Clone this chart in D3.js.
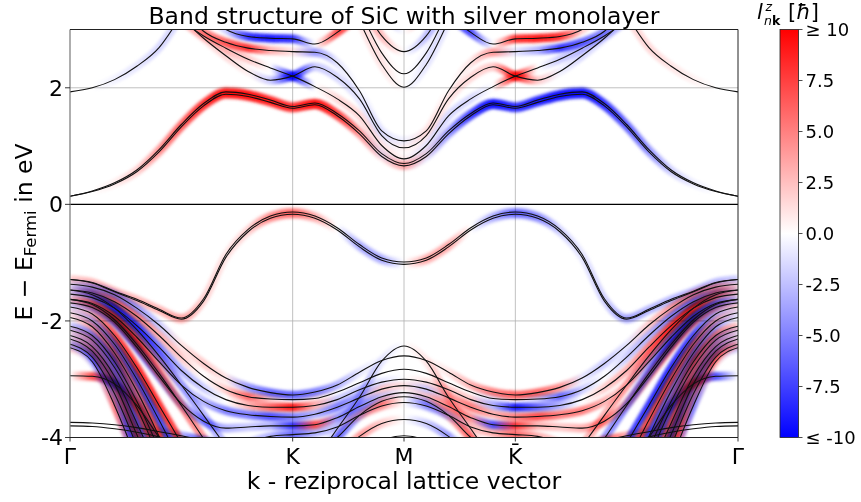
<!DOCTYPE html>
<html><head><meta charset="utf-8">
<script src="https://cdn.jsdelivr.net/npm/d3@7"></script>
<style>body{margin:0;background:#fff}text{font-family:"DejaVu Sans",sans-serif}</style>
</head><body><svg id="chart" width="861" height="502"></svg>
<script>
const _ = null;
// k-path sample positions (Γ=0, K=1, M=1.5, K̄=2, Γ=3)
const kPoints = [0,0.1,0.2,0.3,0.4,0.5,0.6,0.7,0.8,0.9,1,1.1,1.2,1.3,1.4,1.5,1.6,1.7,1.8,1.9,2,2.1,2.2,2.3,2.4,2.5,2.6,2.7,2.8,2.9,3];
const kTicks = [0,1,1.5,2,3];
const kTickLabels = ["Γ","K","M","K\u0304","Γ"];
const eTicks = [2,0,-2,-4];
const eTickLabels = ["2","0","-2","-4"];
const cbTicks = [10,7.5,5,2.5,0,-2.5,-5,-7.5,-10];
const cbTickLabels = ["≥ 10","7.5","5.0","2.5","0.0","-2.5","-5.0","-7.5","≤ -10"];

// ---- conduction bands: energies (eV) and l^z (ħ) ----
const eC1a = [0.14,0.22,0.35,0.56,0.90,1.33,1.69,1.89,1.85,1.75,1.65,1.71,1.52,1.21,0.82,0.66,0.82,1.21,1.52,1.71,1.65,1.75,1.85,1.89,1.69,1.33,0.90,0.56,0.35,0.22,0.14];
const lzC1a = [0,0,0.3,1,2.5,4,6,8,8,7,6,8,6,3,1,3,-1,-3,-6,-8,-6,-7,-8,-8,-6,-4,-2.5,-1,-0.3,0,0];
const eC1b = [0.14,0.23,0.37,0.59,0.94,1.37,1.73,1.93,1.89,1.79,1.68,1.74,1.56,1.26,0.87,0.70,0.87,1.26,1.56,1.74,1.68,1.79,1.89,1.93,1.73,1.37,0.94,0.59,0.37,0.23,0.14];
const lzC1b = [0,0,0.3,1,2.5,4,6,8,8,7,6,8,5,2,-1,1,1,-2,-5,-8,-6,-7,-8,-8,-6,-4,-2.5,-1,-0.3,0,0];
const eC2 = [1.93,2.00,2.14,2.37,2.69,3.25,_,_,_,_,_,_,_,_,_,_,_,_,_,_,_,_,_,_,_,3.25,2.69,2.37,2.14,2.00,1.93];
const lzC2 = [0,0,-0.5,-1,-1.5,-1.5,0,0,0,0,0,0,0,0,0,0,0,0,0,0,0,0,0,0,0,1.5,1.5,1,0.5,0,0];
const eC3 = [_,_,_,_,_,3.40,2.97,2.78,2.68,2.64,2.62,2.61,2.43,1.95,1.26,1.09,1.26,1.95,2.43,2.61,2.62,2.64,2.68,2.78,2.97,3.40,_,_,_,_,_];
const lzC3 = [0,0,0,0,0,3,4,6,8,3,1,-4,-1,0,-1,-0.5,1,0,1,4,-1,-3,-8,-6,-4,-3,0,0,0,0,0];
const eC4 = [_,_,_,_,_,3.15,2.89,2.68,2.49,2.34,2.20,2.02,1.81,1.52,1.01,0.78,1.01,1.52,1.81,2.02,2.20,2.34,2.49,2.68,2.89,3.15,_,_,_,_,_];
const lzC4 = [0,0,0,0,0,2,2.5,2.5,2,0,-9,0,1.5,1.5,1,0.5,-1,-1.5,-1.5,0,9,0,-2,-2.5,-2.5,-2,0,0,0,0,0];
const eC5 = [_,_,_,_,_,3.20,2.85,2.55,2.28,2.13,2.20,2.36,2.18,1.81,1.18,0.97,1.18,1.81,2.18,2.36,2.20,2.13,2.28,2.55,2.85,3.20,_,_,_,_,_];
const lzC5 = [0,0,0,0,0,1,1,1.5,0.5,-2,-9,-2,-1.5,-1,-0.5,0.5,0.5,1,1.5,2,9,2,-0.5,-1.5,-1,-1,0,0,0,0,0];
const eC6 = [_,_,_,_,_,_,3.30,3.00,2.88,2.85,2.84,2.75,2.95,3.25,_,_,_,3.25,2.95,2.75,2.84,2.85,2.88,3.00,3.30,_,_,_,_,_,_];
const lzC6 = [0,0,0,0,0,0,0,-2,-8,-9,-8,0,7,7,0,0,0,-7,-7,0,8,9,8,2,0,0,0,0,0,0,0];
const eM1 = [_,_,_,_,_,_,_,_,_,_,_,_,4.00,3.15,2.40,2.01,2.40,3.15,4.00,_,_,_,_,_,_,_,_,_,_,_,_];
const lzM1 = [0,0,0,0,0,0,0,0,0,0,0,0,0,1,1,0,-1,-1,0,0,0,0,0,0,0,0,0,0,0,0,0];
const eM2 = [_,_,_,_,_,_,_,_,_,_,_,_,4.20,3.35,2.60,2.24,2.60,3.35,4.20,_,_,_,_,_,_,_,_,_,_,_,_];
const lzM2 = [0,0,0,0,0,0,0,0,0,0,0,0,0,0.5,0.5,0,-0.5,-0.5,0,0,0,0,0,0,0,0,0,0,0,0,0];
const eM3 = [_,_,_,_,_,_,_,_,_,_,_,_,4.40,3.55,2.89,2.62,2.89,3.55,4.40,_,_,_,_,_,_,_,_,_,_,_,_];
const lzM3 = [0,0,0,0,0,0,0,0,0,0,0,0,3,3,2.5,0,-2.5,-3,-3,0,0,0,0,0,0,0,0,0,0,0,0];
const eM4 = [_,_,_,_,_,_,_,_,_,_,_,_,_,3.90,3.35,3.00,3.35,3.90,_,_,_,_,_,_,_,_,_,_,_,_,_];
const lzM4 = [0,0,0,0,0,0,0,0,0,0,0,0,0,-5,-3,0,3,5,0,0,0,0,0,0,0,0,0,0,0,0,0];

// ---- valence bands ----
const eV1a = [-1.29,-1.34,-1.49,-1.63,-1.80,-1.95,-1.62,-0.86,-0.43,-0.20,-0.13,-0.20,-0.40,-0.69,-0.92,-0.99,-0.92,-0.69,-0.40,-0.20,-0.13,-0.20,-0.43,-0.86,-1.62,-1.95,-1.80,-1.63,-1.49,-1.34,-1.29];
const eV1b = [-1.29,-1.35,-1.50,-1.65,-1.82,-1.97,-1.66,-0.91,-0.47,-0.24,-0.17,-0.24,-0.44,-0.73,-0.96,-1.03,-0.96,-0.73,-0.44,-0.24,-0.17,-0.24,-0.47,-0.91,-1.66,-1.97,-1.82,-1.65,-1.50,-1.35,-1.29];
const lzV1 = [1,1.5,1.5,1.5,1.5,2,1,0.5,1,3,4,2,0,-2,-2,0,2,2,0,-2,-4,-3,-1,-0.5,-1,-2,-1.5,-1.5,-1.5,-1.5,-1];
const eV2 = [-1.37,-1.42,-1.55,-1.78,-2.07,-2.42,-2.73,-2.98,-3.14,-3.23,-3.27,-3.22,-3.10,-2.88,-2.68,-2.60,-2.68,-2.88,-3.10,-3.22,-3.27,-3.23,-3.14,-2.98,-2.73,-2.42,-2.07,-1.78,-1.55,-1.42,-1.37];
const lzV2 = [-1,-4,-5,-4,-2,1,2,1,-4,-6,-6,-5,-3,-1,0,0,0,1,3,5,6,6,4,-1,-2,-1,2,4,5,4,1];
const eV3 = [-1.47,-1.52,-1.67,-1.92,-2.25,-2.62,-2.95,-3.18,-3.30,-3.34,-3.35,-3.33,-3.22,-3.06,-2.90,-2.83,-2.90,-3.06,-3.22,-3.33,-3.35,-3.34,-3.30,-3.18,-2.95,-2.62,-2.25,-1.92,-1.67,-1.52,-1.47];
const lzV3 = [1,4,6,5,3,2,0,2,6,2,0,1,0,0,0,0,0,0,0,-1,0,-2,-6,-2,0,-2,-3,-5,-6,-4,-1];
const eV4 = [-1.54,-1.60,-1.78,-2.08,-2.45,-2.85,-3.15,-3.35,-3.45,-3.48,-3.48,-3.45,-3.35,-3.18,-3.05,-3.00,-3.05,-3.18,-3.35,-3.45,-3.48,-3.48,-3.45,-3.35,-3.15,-2.85,-2.45,-2.08,-1.78,-1.60,-1.54];
const lzV4 = [-1,-3,-6,-7,-5,-3,-2,0,3,6,9,3,-2,-2,-1,0,1,2,2,-3,-9,-6,-3,0,2,3,5,7,6,3,1];
const eV5 = [-1.63,-1.70,-1.92,-2.28,-2.70,-3.10,-3.38,-3.54,-3.61,-3.64,-3.65,-3.60,-3.48,-3.32,-3.17,-3.11,-3.17,-3.32,-3.48,-3.60,-3.65,-3.64,-3.61,-3.54,-3.38,-3.10,-2.70,-2.28,-1.92,-1.70,-1.63];
const lzV5 = [1,5,7,6,3,0,-3,-5,-5,-7,-5,-3,-5,-3,2,1,-2,3,5,3,5,7,5,5,3,0,-3,-6,-7,-5,-1];
const eV6 = [-1.69,-1.77,-2.02,-2.45,-2.95,-3.42,-3.72,-3.84,-3.82,-3.80,-3.80,-3.78,-3.66,-3.47,-3.30,-3.23,-3.30,-3.47,-3.66,-3.78,-3.80,-3.80,-3.82,-3.84,-3.72,-3.42,-2.95,-2.45,-2.02,-1.77,-1.69];
const lzV6 = [-1,-4,-6,-6,-4,-3,-5,-3,-2,-3,-8,7,-4,-5,-2,0,2,5,4,-7,8,3,2,3,5,3,4,6,6,4,1];
const eS1 = [-1.76,-1.88,-2.25,-2.80,-3.45,-4.10,-4.80,_,_,_,_,_,_,_,_,_,_,_,_,_,_,_,_,_,-4.80,-4.10,-3.45,-2.80,-2.25,-1.88,-1.76];
const lzS1 = [-1,3,7,8,8,7,7,0,0,0,0,0,0,0,0,0,0,0,0,0,0,0,0,0,-7,-7,-8,-8,-7,-3,1];
const eS2 = [-1.86,-2.00,-2.40,-3.00,-3.70,-4.45,_,_,_,_,_,_,_,_,_,_,_,_,_,_,_,_,_,_,_,-4.45,-3.70,-3.00,-2.40,-2.00,-1.86];
const lzS2 = [1,-3,-6,-7,-7,-6,0,0,0,0,0,0,0,0,0,0,0,0,0,0,0,0,0,0,0,6,7,7,6,3,-1];
const eS3 = [-1.94,-2.10,-2.55,-3.20,-3.98,-4.80,_,_,_,_,_,_,_,_,_,_,_,_,_,_,_,_,_,_,_,-4.80,-3.98,-3.20,-2.55,-2.10,-1.94];
const lzS3 = [0,4,6,5,7,7,0,0,0,0,0,0,0,0,0,0,0,0,0,0,0,0,0,0,0,-7,-7,-5,-6,-4,0];
const eS4 = [-2.09,-2.25,-2.70,-3.38,-4.20,_,_,_,_,_,_,_,_,_,_,_,_,_,_,_,_,_,_,_,_,_,-4.20,-3.38,-2.70,-2.25,-2.09];
const lzS4 = [-2,-5,-7,-4,-6,0,0,0,0,0,0,0,0,0,0,0,0,0,0,0,0,0,0,0,0,0,6,4,7,5,2];
const eS5 = [-2.16,-2.33,-2.80,-3.50,-4.35,_,_,_,_,_,_,_,_,_,_,_,_,_,_,_,_,_,_,_,_,_,-4.35,-3.50,-2.80,-2.33,-2.16];
const lzS5 = [1,4,3,6,8,0,0,0,0,0,0,0,0,0,0,0,0,0,0,0,0,0,0,0,0,0,-8,-6,-3,-4,-1];
const eS6 = [-2.25,-2.44,-2.95,-3.75,-4.60,_,_,_,_,_,_,_,_,_,_,_,_,_,_,_,_,_,_,_,_,_,-4.60,-3.75,-2.95,-2.44,-2.25];
const lzS6 = [-1,-4,-6,-7,-5,0,0,0,0,0,0,0,0,0,0,0,0,0,0,0,0,0,0,0,0,0,5,7,6,4,1];
const eS7 = [-2.31,-2.52,-3.08,-3.95,-4.80,_,_,_,_,_,_,_,_,_,_,_,_,_,_,_,_,_,_,_,_,_,-4.80,-3.95,-3.08,-2.52,-2.31];
const lzS7 = [1,5,6,7,7,0,0,0,0,0,0,0,0,0,0,0,0,0,0,0,0,0,0,0,0,0,-7,-7,-6,-5,-1];
const eS8 = [-2.40,-2.62,-3.25,-4.15,_,_,_,_,_,_,_,_,_,_,_,_,_,_,_,_,_,_,_,_,_,_,_,-4.15,-3.25,-2.62,-2.40];
const lzS8 = [-3,-6,-4,-7,0,0,0,0,0,0,0,0,0,0,0,0,0,0,0,0,0,0,0,0,0,0,0,7,4,6,3];
const eS9 = [-2.46,-2.70,-3.45,-4.40,_,_,_,_,_,_,_,_,_,_,_,_,_,_,_,_,_,_,_,_,_,_,_,-4.40,-3.45,-2.70,-2.46];
const lzS9 = [2,-2,5,-6,0,0,0,0,0,0,0,0,0,0,0,0,0,0,0,0,0,0,0,0,0,0,0,6,-5,2,-2];
const eS10 = [-2.94,-2.95,-3.08,-3.45,-4.00,-4.55,_,_,_,_,_,_,_,_,_,_,_,_,_,_,_,_,_,_,_,-4.55,-4.00,-3.45,-3.08,-2.95,-2.94];
const lzS10 = [0,7,-7,6,0,0,0,0,0,0,0,0,0,0,0,0,0,0,0,0,0,0,0,0,0,0,0,-6,7,-7,0];
const eT1 = [-1.47,-1.55,-1.78,-2.15,-2.60,-3.10,-3.62,-4.15,_,_,_,_,_,_,_,_,_,_,_,_,_,_,_,-4.15,-3.62,-3.10,-2.60,-2.15,-1.78,-1.55,-1.47];
const lzT1 = [-1,-5,-7,-6,-5,-4,-3,-3,0,0,0,0,0,0,0,0,0,0,0,0,0,0,0,3,3,4,5,6,7,5,1];
const eT2 = [-1.63,-1.72,-1.98,-2.40,-2.90,-3.45,-4.02,-4.60,_,_,_,_,_,_,_,_,_,_,_,_,_,_,_,-4.60,-4.02,-3.45,-2.90,-2.40,-1.98,-1.72,-1.63];
const lzT2 = [1,3,6,7,6,5,4,4,0,0,0,0,0,0,0,0,0,0,0,0,0,0,0,-4,-4,-5,-6,-7,-6,-3,-1];
const eL1 = [-3.74,-3.75,-3.78,-3.83,-3.90,-3.97,-4.05,-4.15,_,_,_,_,_,_,_,_,_,_,_,_,_,_,_,-4.15,-4.05,-3.97,-3.90,-3.83,-3.78,-3.75,-3.74];
const lzL1 = [0,0,0,0,3,-3,-7,0,0,0,0,0,0,0,0,0,0,0,0,0,0,0,0,0,7,3,-3,0,0,0,0];
const eL2 = [-3.80,-3.81,-3.85,-3.91,-3.99,-4.08,-4.20,_,_,_,_,_,_,_,_,_,_,_,_,_,_,_,_,_,-4.20,-4.08,-3.99,-3.91,-3.85,-3.81,-3.80];
const lzL2 = [0,0,0,0,0,-4,-4,0,0,0,0,0,0,0,0,0,0,0,0,0,0,0,0,0,4,4,0,0,0,0,0];
const eVK = [_,_,_,_,_,_,_,-4.30,-4.10,-3.98,-3.95,-3.92,-3.82,-3.62,-3.46,-3.40,-3.46,-3.62,-3.82,-3.92,-3.95,-3.98,-4.10,-4.30,_,_,_,_,_,_,_];
const lzVK = [0,0,0,0,0,0,0,0,-2,-3,-6,-3,-2,3,4,0,-4,-3,2,3,6,3,2,0,0,0,0,0,0,0,0];
const eVM1 = [_,_,_,_,_,_,_,_,_,_,_,-4.40,-3.85,-3.31,-2.69,-2.43,-2.69,-3.31,-3.85,-4.40,_,_,_,_,_,_,_,_,_,_,_];
const lzVM1 = [0,0,0,0,0,0,0,0,0,0,0,0,-1,-3,-1,0,1,3,1,0,0,0,0,0,0,0,0,0,0,0,0];
const eVM2 = [_,_,_,_,_,_,_,_,_,_,_,-4.30,-4.00,-3.62,-3.38,-3.30,-3.38,-3.62,-4.00,-4.30,_,_,_,_,_,_,_,_,_,_,_];
const lzVM2 = [0,0,0,0,0,0,0,0,0,0,0,0,-6,-3,3,0,-3,3,6,0,0,0,0,0,0,0,0,0,0,0,0];
const eVM3 = [_,_,_,_,_,_,_,_,_,_,_,_,-4.30,-3.98,-3.76,-3.69,-3.76,-3.98,-4.30,_,_,_,_,_,_,_,_,_,_,_,_];
const lzVM3 = [0,0,0,0,0,0,0,0,0,0,0,0,0,4,2,0,-2,-4,0,0,0,0,0,0,0,0,0,0,0,0,0];
const eVM4 = [_,_,_,_,_,_,_,_,_,_,_,_,_,-4.30,-4.05,-3.97,-4.05,-4.30,_,_,_,_,_,_,_,_,_,_,_,_,_];
const lzVM4 = [0,0,0,0,0,0,0,0,0,0,0,0,0,0,0,0,0,0,0,0,0,0,0,0,0,0,0,0,0,0,0];

const bands = [
  [eC1a,lzC1a],[eC1b,lzC1b],[eC2,lzC2],[eC3,lzC3],[eC4,lzC4],[eC5,lzC5],[eC6,lzC6],
  [eM1,lzM1],[eM2,lzM2],[eM3,lzM3],[eM4,lzM4],
  [eV1a,lzV1],[eV1b,lzV1],[eV2,lzV2],[eV3,lzV3],[eV4,lzV4],[eV5,lzV5],[eV6,lzV6],
  [eS1,lzS1],[eS2,lzS2],[eS3,lzS3],[eS4,lzS4],[eS5,lzS5],[eS6,lzS6],[eS7,lzS7],[eS8,lzS8],[eS9,lzS9],[eS10,lzS10],
  [eT1,lzT1],[eT2,lzT2],[eL1,lzL1],[eL2,lzL2],[eVK,lzVK],[eVM1,lzVM1],[eVM2,lzVM2],[eVM3,lzVM3],[eVM4,lzVM4]
].map(([E,lz])=>({E,lz}));

// ---- drawing ----
const W=861,H=502;
const P={left:70,right:738,top:29.5,bottom:437.5};
const x=d3.scaleLinear().domain([0,3]).range([P.left,P.right]);
const y=d3.scaleLinear().domain([-4,3]).range([P.bottom,P.top]);
const cmap=d3.scaleLinear().domain([-10,0,10]).range(["#0000ff","#ffffff","#ff0000"]).clamp(true);

const svg=d3.select("#chart");
svg.append("rect").attr("width",W).attr("height",H).attr("fill","#fff");
const defs=svg.append("defs");
defs.append("clipPath").attr("id","clip").append("rect")
  .attr("x",P.left).attr("y",P.top).attr("width",P.right-P.left).attr("height",P.bottom-P.top);
defs.append("filter").attr("id","soft").attr("filterUnits","userSpaceOnUse")
  .attr("x",0).attr("y",0).attr("width",W).attr("height",H)
  .append("feGaussianBlur").attr("stdDeviation",1.5);

// grid
const grid=svg.append("g").attr("stroke","#b0b0b0").attr("stroke-width",0.8);
[1,1.5,2].forEach(k=>grid.append("line").attr("x1",x(k)).attr("x2",x(k)).attr("y1",P.top).attr("y2",P.bottom));
[2,-2].forEach(e=>grid.append("line").attr("x1",P.left).attr("x2",P.right).attr("y1",y(e)).attr("y2",y(e)));

const line=d3.line().defined(d=>d.e!==null).x(d=>x(d.k)).y(d=>y(d.e)).curve(d3.curveMonotoneX);

// glow
const glowG=svg.append("g");
bands.forEach((b,i)=>{
  const pts=kPoints.map((k,j)=>({k,e:b.E[j]}));
  const g=defs.append("linearGradient").attr("id","g"+i).attr("gradientUnits","userSpaceOnUse")
    .attr("x1",x(0)).attr("x2",x(3)).attr("y1",0).attr("y2",0);
  kPoints.forEach((k,j)=>g.append("stop").attr("offset",k/3).attr("stop-color",cmap(b.lz[j]||0)));
  glowG.append("path").attr("d",line(pts)).attr("fill","none")
    .attr("stroke","url(#g"+i+")").attr("stroke-width",8.5)
    .attr("filter","url(#soft)").attr("clip-path","url(#clip)")
    .style("mix-blend-mode","multiply");
});

// Fermi level
svg.append("line").attr("x1",P.left).attr("x2",P.right).attr("y1",y(0)).attr("y2",y(0))
  .attr("stroke","#000").attr("stroke-width",1.3);

// band lines
const lineG=svg.append("g").attr("clip-path","url(#clip)");
bands.forEach(b=>{
  const pts=kPoints.map((k,j)=>({k,e:b.E[j]}));
  lineG.append("path").attr("d",line(pts)).attr("fill","none").attr("stroke","#111").attr("stroke-width",1.1);
});

// spines
svg.append("line").attr("x1",P.left).attr("x2",P.left).attr("y1",P.top).attr("y2",P.bottom).attr("stroke","#777").attr("stroke-width",1.2);
svg.append("path").attr("d",`M${P.left},${P.top}H${P.right}V${P.bottom}H${P.left}`).attr("fill","none").attr("stroke","#222").attr("stroke-width",1);

// y ticks
eTicks.forEach((e,i)=>{
  svg.append("line").attr("x1",P.left-5).attr("x2",P.left).attr("y1",y(e)).attr("y2",y(e)).attr("stroke","#222").attr("stroke-width",0.9);
  svg.append("text").attr("x",P.left-7).attr("y",y(e)).attr("dy","0.36em").attr("text-anchor","end")
    .attr("font-size",22).text(eTickLabels[i]);
});
// x ticks
kTicks.forEach((k,i)=>{
  svg.append("line").attr("x1",x(k)).attr("x2",x(k)).attr("y1",P.bottom).attr("y2",P.bottom+4).attr("stroke","#222").attr("stroke-width",0.9);
  svg.append("text").attr("x",x(k)).attr("y",P.bottom+26).attr("text-anchor","middle")
    .attr("font-size",22).text(kTickLabels[i]);
});

// title and axis labels
svg.append("text").attr("x",(P.left+P.right)/2).attr("y",24).attr("text-anchor","middle").attr("font-size",23.5)
  .text("Band structure of SiC with silver monolayer");
svg.append("text").attr("x",(P.left+P.right)/2).attr("y",489).attr("text-anchor","middle").attr("font-size",23.5)
  .text("k - reziprocal lattice vector");
const yl=svg.append("text").attr("transform","translate(32,232) rotate(-90)").attr("text-anchor","middle").attr("font-size",23.5);
yl.append("tspan").text("E − E");
yl.append("tspan").attr("font-size",16.5).attr("dy",4).text("Fermi");
yl.append("tspan").attr("dy",-4).text(" in eV");

// colorbar
const cb={x:780,w:18.5,top:P.top,bottom:P.bottom};
const cy=d3.scaleLinear().domain([-10,10]).range([cb.bottom,cb.top]);
const cg=defs.append("linearGradient").attr("id","cbar").attr("x1",0).attr("x2",0).attr("y1",1).attr("y2",0);
[-10,-5,0,5,10].forEach(v=>cg.append("stop").attr("offset",(v+10)/20).attr("stop-color",cmap(v)));
svg.append("rect").attr("x",cb.x).attr("y",cb.top).attr("width",cb.w).attr("height",cb.bottom-cb.top)
  .attr("fill","url(#cbar)").attr("stroke","#222").attr("stroke-width",0.8);
cbTicks.forEach((v,i)=>{
  svg.append("line").attr("x1",cb.x+cb.w).attr("x2",cb.x+cb.w+4).attr("y1",cy(v)).attr("y2",cy(v)).attr("stroke","#222").attr("stroke-width",0.8);
  svg.append("text").attr("x",cb.x+cb.w+7).attr("y",cy(v)).attr("dy","0.36em").attr("font-size",18).text(cbTickLabels[i]);
});
// colorbar label  l^z_{nk} [ħ]
const lab=svg.append("g");
lab.append("text").attr("x",757).attr("y",19).attr("font-size",21).attr("font-style","italic").text("l");
lab.append("text").attr("x",765.5).attr("y",11).attr("font-size",12.5).attr("font-style","italic").text("z");
lab.append("text").attr("x",764).attr("y",25).attr("font-size",12.5).attr("font-style","italic").text("n");
lab.append("text").attr("x",772).attr("y",25).attr("font-size",12.5).attr("font-weight","bold").text("k");
const hb=lab.append("text").attr("x",788).attr("y",19).attr("font-size",21);
hb.append("tspan").text("[");
hb.append("tspan").attr("font-style","italic").text("ħ");
hb.append("tspan").text("]");
</script></body></html>
